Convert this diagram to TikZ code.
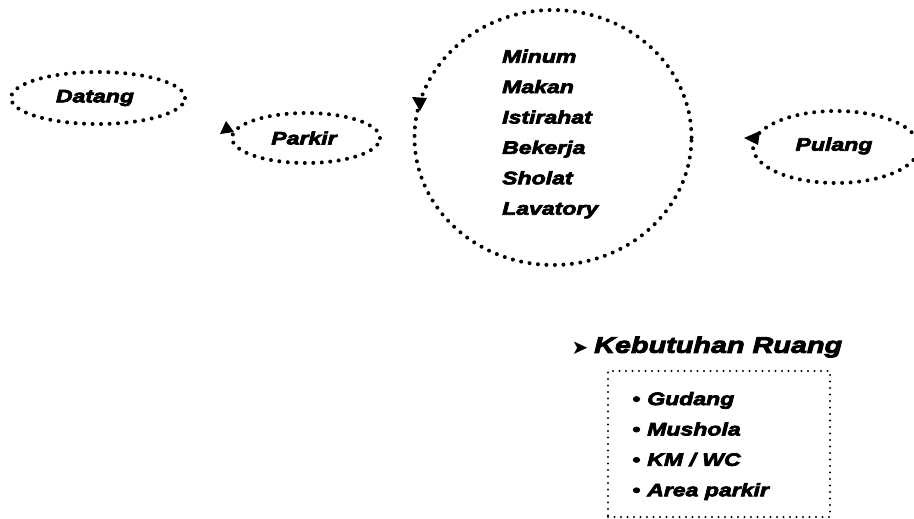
\documentclass[tikz,border=0pt]{standalone}
\usepackage{fontspec}
\usetikzlibrary{shapes.geometric,arrows.meta}
\newfontfamily\lblfont{Liberation Sans}[BoldItalicFeatures={FakeStretch=1.28,FakeBold=4}]
\newfontfamily\symfont{DejaVu Sans}
\newcommand{\lbl}{\lblfont\bfseries\itshape}
\tikzset{
  dots/.style={draw, line width=4pt, line cap=round, dash pattern=on 0pt off 8.5pt},
  finedots/.style={draw, line width=2.4pt, line cap=round, dash pattern=on 0pt off 6.5pt},
  oval/.style={ellipse, dots, inner sep=0pt},
  txt/.style={font=\lbl\fontsize{18}{30.4}\selectfont, inner sep=0pt},
}
\begin{document}
\begin{tikzpicture}[x=1pt,y=-1pt]
\useasboundingbox (0,0) rectangle (914,519);
% ovals
\node[oval, minimum width=174pt, minimum height=52pt] (datang) at (98,98) {};
\node[txt] (tdatang) at (95,98) {Datang};
\node[oval, minimum width=148pt, minimum height=50pt] (parkir) at (306,138) {};
\node[txt] (tparkir) at (304,138) {Parkir};
\node[oval, minimum width=277pt, minimum height=255pt] (cyc) at (553,137.5) {};
\node[txt, align=left, anchor=west] (tcyc) at (502,134) {Minum\\Makan\\Istirahat\\Bekerja\\Sholat\\Lavatory};
\node[oval, minimum width=166pt, minimum height=72pt] (pulang) at (836,147) {};
\node[txt] (tpulang) at (834,146) {Pulang};
% arrowheads on ovals
\fill (226,121) -- (220,134) -- (234,132) -- cycle;
\fill (412,97) -- (427,98) -- (420,111) -- cycle;
\fill (744,138) -- (760,131) -- (758,145) -- cycle;
% requirements
\node[font=\symfont\fontsize{20}{20}\selectfont, inner sep=0pt] (hd) at (580,348) {➤};
\node[font=\lbl\fontsize{22.5}{22.5}\selectfont, inner sep=0pt, anchor=west] (head) at (594,347) {Kebutuhan Ruang};
\node[finedots, minimum width=222pt, minimum height=146pt, inner sep=0pt] (box) at (719,444) {};
\node[txt, align=left, anchor=west] (list) at (632,446) {•\hspace{7pt}Gudang\\•\hspace{7pt}Mushola\\•\hspace{7pt}KM / WC\\•\hspace{7pt}Area parkir};
\end{tikzpicture}
\end{document}
